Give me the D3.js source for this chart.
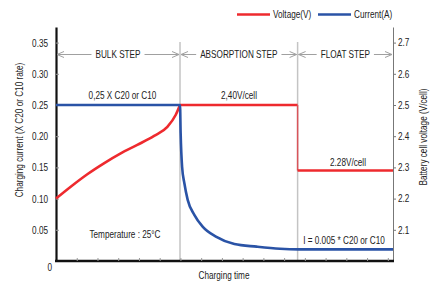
<!DOCTYPE html>
<html>
<head>
<meta charset="utf-8">
<script src="https://cdn.jsdelivr.net/npm/d3@7"></script>
<style>
  body { margin: 0; background: #fff; }
  text { font-family: "Liberation Sans", Arial, sans-serif; font-size: 10px; fill: #222; }
</style>
</head>
<body>
<div id="chart"></div>
<script>
// charging profile, time in arbitrary units (tick = 1)
var currentTime = [0, 5.98, 6.01, 6.08, 6.19, 6.35, 6.67, 7.07, 7.71, 8.6, 9.68, 10.8, 11.67, 16.25];
var currentVal  = [0.25, 0.25, 0.205, 0.151, 0.1245, 0.098, 0.074, 0.055, 0.039, 0.0272, 0.023, 0.0197, 0.0187, 0.0187];

var voltTime = [0, 0.71, 1.51, 2.31, 3.12, 3.92, 4.73, 5.37, 5.77, 5.98];
var voltVal  = [2.20, 2.238, 2.278, 2.313, 2.345, 2.372, 2.401, 2.43, 2.468, 2.50];
var absorbEnd = 11.65;
var absorbV = 2.50, floatV = 2.29;

var leftTicks  = [0, 0.05, 0.10, 0.15, 0.20, 0.25, 0.30, 0.35];
var rightTicks = [2.1, 2.2, 2.3, 2.4, 2.5, 2.6, 2.7];
var steps = ["BULK STEP", "ABSORPTION STEP", "FLOAT STEP"];
var stepBounds = [0, 5.98, absorbEnd, 16.25];

var red = "#ee2a2e", blue = "#2a53a6";
var width = 439, height = 284;
var squeeze = 0.82;   // fake a narrow face

function narrow(sel) {
    sel.each(function() {
        var t = d3.select(this);
        var tr = t.attr("transform") || "";
        t.attr("x", (+t.attr("x") || 0) / squeeze)
         .attr("transform", tr + " scale(" + squeeze + ",1)");
    });
}

var svg = d3.select("#chart").append("svg")
    .attr("width", width)
    .attr("height", height);

var x  = d3.scaleLinear().domain([0, 16.25]).range([56, 393]);
var yI = d3.scaleLinear().domain([0, 0.375]).range([261, 27]);
var yV = d3.scaleLinear().domain([2.0, 2.75]).range([261, 27]);

// vertical step separators
svg.selectAll(".sep")
    .data([5.98, absorbEnd])
    .enter().append("line")
    .attr("x1", d => x(d)).attr("x2", d => x(d))
    .attr("y1", 42).attr("y2", 261)
    .attr("stroke", "#c4c4c4").attr("stroke-width", 1.5);

// left axis
var gl = svg.append("g")
    .attr("transform", "translate(" + x(0) + ",0)")
    .call(d3.axisLeft(yI).tickValues(leftTicks).tickSize(-3).tickSizeOuter(0)
        .tickPadding(7).tickFormat(d => d === 0 ? "0" : d3.format(".2f")(d)));
gl.select(".domain").attr("stroke", "#111").attr("stroke-width", 2.2);
gl.selectAll(".tick line").attr("stroke", "#999");
gl.selectAll(".tick text").attr("fill", "#333")
    .attr("dy", d => d === 0 ? "0.95em" : "0.35em")
    .attr("x", d => d === 0 ? -4 : -8)
    .call(narrow);

// right axis
var gr = svg.append("g")
    .attr("transform", "translate(" + x(16.25) + ",0)")
    .call(d3.axisRight(yV).tickValues(rightTicks).tickSize(3).tickSizeOuter(0)
        .tickPadding(2).tickFormat(d3.format(".1f")));
gr.select(".domain").attr("stroke", "#777").attr("stroke-width", 1);
gr.selectAll(".tick line").attr("stroke", "#777");
gr.selectAll(".tick text").attr("fill", "#333").call(narrow);

// bottom axis
var gb = svg.append("g")
    .attr("transform", "translate(0," + yI(0) + ")")
    .call(d3.axisBottom(x).tickValues(d3.range(1, 17)).tickSize(-3).tickSizeOuter(0).tickFormat(""));
gb.select(".domain").attr("stroke", "#111").attr("stroke-width", 2.5)
    .attr("d", "M" + (x(0) - 1) + ",0H" + (x(16.25) + 1));
gb.selectAll(".tick line").attr("stroke", "#999");

// axis titles
svg.append("text")
    .attr("transform", "translate(23,130) rotate(-90)")
    .attr("text-anchor", "middle").attr("fill", "#333")
    .text("Charging current (X C20 or C10 rate)").call(narrow);
svg.append("text")
    .attr("transform", "translate(427,137) rotate(-90)")
    .attr("text-anchor", "middle").attr("fill", "#333")
    .text("Battery cell voltage (V/cell)").call(narrow);
svg.append("text")
    .attr("x", 224).attr("y", 279)
    .attr("text-anchor", "middle").attr("fill", "#333")
    .text("Charging time").call(narrow);

// step labels with double arrows
var arrowY = 54.5;
steps.forEach(function(s, i) {
    var x0 = x(stepBounds[i]), x1 = x(stepBounds[i + 1]);
    var cx = (x0 + x1) / 2;
    var t = svg.append("text")
        .attr("x", cx).attr("y", arrowY + 4)
        .attr("text-anchor", "middle").attr("fill", "#333")
        .text(s).call(narrow);
    var w = t.node().getComputedTextLength() * squeeze;
    var g = svg.append("g").attr("stroke", "#a0a0a0").attr("fill", "none").attr("stroke-width", 1);
    g.append("line").attr("x1", x0 + 1).attr("x2", cx - w / 2 - 4).attr("y1", arrowY).attr("y2", arrowY);
    g.append("line").attr("x1", cx + w / 2 + 4).attr("x2", x1 - 1).attr("y1", arrowY).attr("y2", arrowY);
    g.append("path").attr("d", "M" + (x0 + 8) + "," + (arrowY - 3) + "L" + (x0 + 1) + "," + arrowY + "L" + (x0 + 8) + "," + (arrowY + 3));
    g.append("path").attr("d", "M" + (x1 - 8) + "," + (arrowY - 3) + "L" + (x1 - 1) + "," + arrowY + "L" + (x1 - 8) + "," + (arrowY + 3));
});

// voltage line
var vLine = d3.line().x(d => x(d[0])).y(d => yV(d[1])).curve(d3.curveMonotoneX);
svg.append("path")
    .datum(d3.zip(voltTime, voltVal))
    .attr("d", vLine)
    .attr("fill", "none").attr("stroke", red).attr("stroke-width", 2.6);
svg.append("path")
    .datum([[5.98, absorbV], [absorbEnd, absorbV]])
    .attr("d", d3.line().x(d => x(d[0])).y(d => yV(d[1])))
    .attr("fill", "none").attr("stroke", red).attr("stroke-width", 2.6);
svg.append("line")
    .attr("x1", x(absorbEnd)).attr("x2", x(absorbEnd))
    .attr("y1", yV(absorbV)).attr("y2", yV(floatV))
    .attr("stroke", "#d9545a").attr("stroke-width", 1.5);
svg.append("path")
    .datum([[absorbEnd, floatV], [16.25, floatV]])
    .attr("d", d3.line().x(d => x(d[0])).y(d => yV(d[1])))
    .attr("fill", "none").attr("stroke", red).attr("stroke-width", 2.6);

// current line
var iLine = d3.line().x(d => x(d[0])).y(d => yI(d[1])).curve(d3.curveMonotoneX);
svg.append("path")
    .datum(d3.zip(currentTime, currentVal))
    .attr("d", iLine)
    .attr("fill", "none").attr("stroke", blue).attr("stroke-width", 2.6);

// annotations
var notes = [
    {t: "0,25 X C20 or C10", x: 122.5, y: 99},
    {t: "2,40V/cell", x: 239, y: 99},
    {t: "2.28V/cell", x: 348, y: 166},
    {t: "I = 0.005 * C20 or C10", x: 344, y: 244},
    {t: "Temperature : 25°C", x: 125, y: 238}
];
svg.selectAll(".note")
    .data(notes)
    .enter().append("text")
    .attr("x", d => d.x).attr("y", d => d.y)
    .attr("text-anchor", "middle").attr("fill", "#222")
    .text(d => d.t).call(narrow);

// legend
var legend = [{name: "Voltage(V)", c: red, x: 237}, {name: "Current(A)", c: blue, x: 318}];
var lg = svg.selectAll(".leg").data(legend).enter().append("g");
lg.append("line")
    .attr("x1", d => d.x).attr("x2", d => d.x + 33)
    .attr("y1", 14.5).attr("y2", 14.5)
    .attr("stroke", d => d.c).attr("stroke-width", 2.6);
lg.append("text")
    .attr("x", d => d.x + 36).attr("y", 18.5)
    .attr("fill", "#222")
    .text(d => d.name).call(narrow);
</script>
</body>
</html>
